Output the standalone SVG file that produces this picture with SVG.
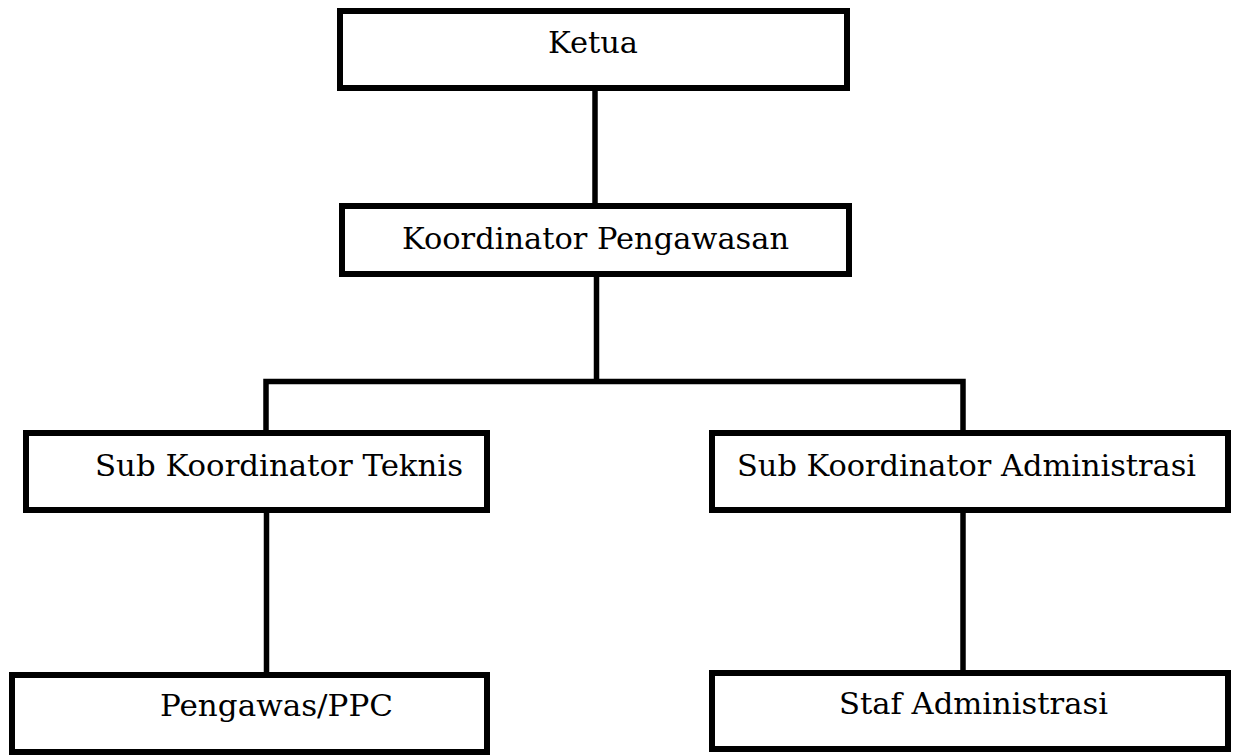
<svg xmlns="http://www.w3.org/2000/svg" width="1241" height="755" viewBox="0 0 1241 755">
<style>
.box{fill:#fff;stroke:#000;stroke-width:6}
.lbl{font-family:"DejaVu Serif","Liberation Serif",serif;font-size:30px;fill:#000;text-anchor:middle}
.con{stroke:#000;stroke-width:5.5;fill:none}
</style>
<rect width="1241" height="755" fill="#fff"/>
<g id="connectors">
<line class="con" x1="595" y1="90" x2="595" y2="205"/>
<line class="con" x1="596.5" y1="276" x2="596.5" y2="382"/>
<polyline class="con" points="266,430 266,381.5 963,381.5 963,430"/>
<line class="con" x1="266.5" y1="512" x2="266.5" y2="673"/>
<line class="con" x1="963" y1="512" x2="963" y2="671"/>
</g>
<g id="ketua">
<rect class="box" x="340" y="11" width="507" height="77"/>
<text class="lbl" x="593" y="53" textLength="90" lengthAdjust="spacingAndGlyphs">Ketua</text>
</g>
<g id="koordinator">
<rect class="box" x="342" y="206" width="507" height="68"/>
<text class="lbl" x="595.5" y="249" textLength="387" lengthAdjust="spacingAndGlyphs">Koordinator Pengawasan</text>
</g>
<g id="sub-teknis">
<rect class="box" x="26" y="433" width="461" height="77"/>
<text class="lbl" x="279" y="476" textLength="368" lengthAdjust="spacingAndGlyphs">Sub Koordinator Teknis</text>
</g>
<g id="sub-admin">
<rect class="box" x="712" y="433" width="516" height="77"/>
<text class="lbl" x="966.5" y="476" textLength="459" lengthAdjust="spacingAndGlyphs">Sub Koordinator Administrasi</text>
</g>
<g id="pengawas">
<rect class="box" x="12" y="675" width="475" height="77"/>
<text class="lbl" x="276.5" y="716" textLength="233" lengthAdjust="spacingAndGlyphs">Pengawas/PPC</text>
</g>
<g id="staf">
<rect class="box" x="712" y="673" width="516" height="76"/>
<text class="lbl" x="973.5" y="714" textLength="269" lengthAdjust="spacingAndGlyphs">Staf Administrasi</text>
</g>
</svg>
